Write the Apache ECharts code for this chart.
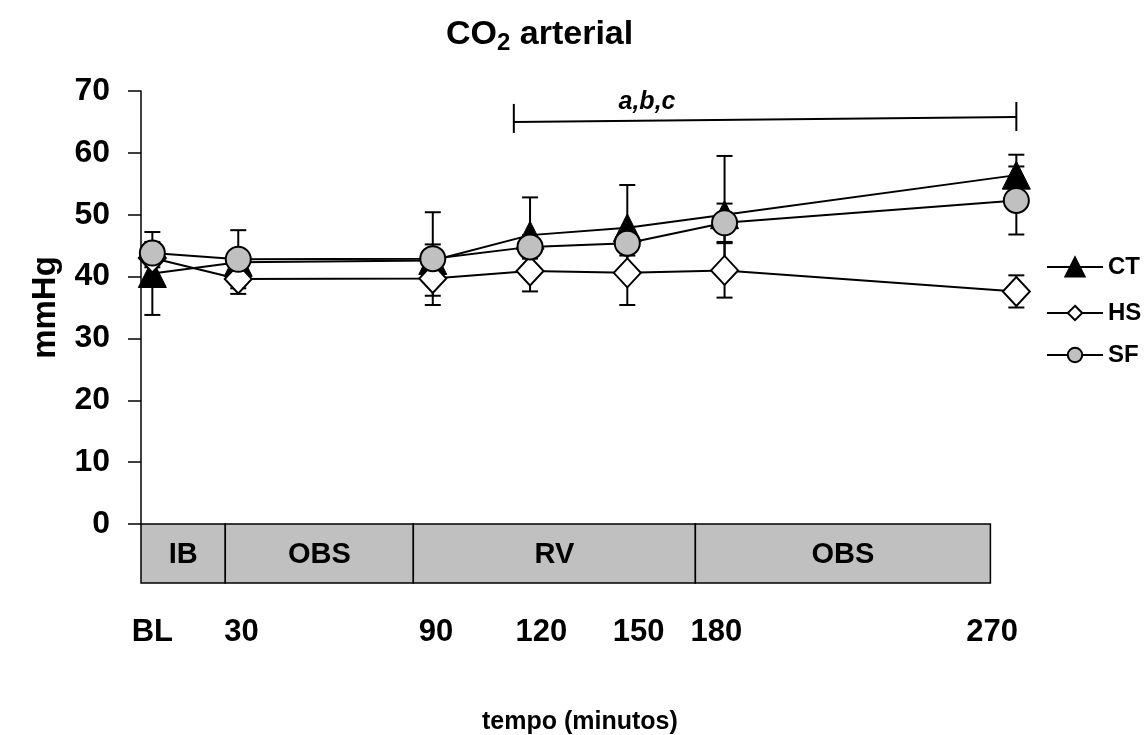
<!DOCTYPE html>
<html>
<head>
<meta charset="utf-8">
<script src="https://cdn.jsdelivr.net/npm/echarts@6/dist/echarts.min.js"></script>
<style>
  html, body { margin: 0; padding: 0; background: #ffffff; }
  #chart { width: 1144px; height: 735px; }
</style>
</head>
<body>
<div id="chart"></div>
<script>
// Sampling times (minutes) and their tick labels
const timeLabels = ['BL', '30', '90', '120', '150', '180', '270'];
const minutes = [3.5, 30, 90, 120, 150, 180, 270];

// Arterial CO2 (mmHg): mean and SD per group
const ctMean = [40.5, 42.3, 42.6, 46.7, 47.9, 50.0, 56.4];
const ctSd   = [6.7, 1.8, 2.6, 6.1, 6.9, 9.5, 3.3];
const hsMean = [43.0, 39.6, 39.7, 40.9, 40.6, 41.0, 37.6];
const hsSd   = [1.5, 2.4, 2.8, 3.3, 5.2, 4.4, 2.6];
const sfMean = [43.8, 42.8, 42.9, 44.8, 45.4, 48.7, 52.3];
const sfSd   = [1.8, 4.7, 7.5, 1.9, 2.0, 3.1, 5.5];

// Experimental phases (minutes)
const phaseNames = ['IB', 'OBS', 'RV', 'OBS'];
const phaseStart = [0, 26, 84, 171];
const phaseEnd   = [26, 84, 171, 262];

// Significance bracket: start/end time and level (mmHg)
const sigText = 'a,b,c';
const sigStart = [115, 65.0];
const sigEnd   = [270, 65.8];

// Y axis range
const yMin = 0, yMax = 70, yStep = 10;

// ---- layout ----
const FONT = '"Liberation Sans", Arial, Helvetica, sans-serif';
const xMax = 300;
const plotLeft = 141, plotTop = 91, plotWidth = 972.6, plotHeight = 433;
const barHeight = 59;
// where each time label sits along the axis (minutes)
const labelAnchor = [3.5, 31, 91, 123.5, 153.5, 177.5, 262.5];

const pts = (means) => minutes.map((m, i) => [m, means[i]]);
const errs = (means, sds) => minutes.map((m, i) => [m, means[i] - sds[i], means[i] + sds[i]]);

function errorBarRender(params, api) {
  const x = api.value(0);
  const lo = api.coord([x, api.value(1)]);
  const hi = api.coord([x, api.value(2)]);
  const half = 8;
  const style = { stroke: '#000', lineWidth: 2, fill: null };
  return {
    type: 'group',
    children: [
      { type: 'line', shape: { x1: lo[0], y1: lo[1], x2: hi[0], y2: hi[1] }, style },
      { type: 'line', shape: { x1: lo[0] - half, y1: lo[1], x2: lo[0] + half, y2: lo[1] }, style },
      { type: 'line', shape: { x1: hi[0] - half, y1: hi[1], x2: hi[0] + half, y2: hi[1] }, style }
    ]
  };
}

const lineBase = {
  type: 'line',
  xAxisIndex: 0,
  yAxisIndex: 0,
  lineStyle: { color: '#000', width: 2 },
  emphasis: { disabled: true },
  animation: false
};

const legendText = { fontFamily: FONT, fontWeight: 'bold', fontSize: 24, color: '#000', lineHeight: 18 };

const option = {
  backgroundColor: '#ffffff',
  animation: false,
  title: [
    {
      text: '{a|CO}{s|2}{a| arterial}',
      left: 441,
      top: 10,
      textStyle: {
        rich: {
          a: { fontFamily: FONT, fontWeight: 'bold', fontSize: 34, color: '#000', lineHeight: 40, verticalAlign: 'middle' },
          s: { fontFamily: FONT, fontWeight: 'bold', fontSize: 24, color: '#000', lineHeight: 18, verticalAlign: 'bottom' }
        }
      }
    },
    {
      text: 'tempo (minutos)',
      left: 477,
      top: 705,
      textStyle: { fontFamily: FONT, fontWeight: 'bold', fontSize: 25, color: '#000' }
    }
  ],
  legend: [
    {
      data: ['CT'], orient: 'vertical', left: 1046, top: 255, padding: 0,
      itemWidth: 56, itemHeight: 24, textStyle: legendText
    },
    {
      data: ['HS'], orient: 'vertical', left: 1046, top: 301, padding: 0,
      itemWidth: 56, itemHeight: 18, textStyle: legendText
    },
    {
      data: ['SF'], orient: 'vertical', left: 1046, top: 343, padding: 0,
      itemWidth: 56, itemHeight: 18, textStyle: legendText
    }
  ],
  grid: [
    { left: plotLeft, top: plotTop, width: plotWidth, height: plotHeight, containLabel: false },
    { left: plotLeft, top: plotTop + plotHeight, width: plotWidth, height: barHeight, containLabel: false }
  ],
  xAxis: [
    { gridIndex: 0, type: 'value', min: 0, max: xMax, show: false },
    {
      gridIndex: 1, type: 'value', min: 0, max: xMax,
      axisLine: { show: false }, axisTick: { show: false }, splitLine: { show: false },
      axisLabel: {
        customValues: labelAnchor,
        formatter: (v) => timeLabels[labelAnchor.indexOf(v)] || '',
        margin: 34,
        fontFamily: FONT, fontWeight: 'bold', fontSize: 31, color: '#000'
      }
    }
  ],
  yAxis: [
    {
      gridIndex: 0, type: 'value', min: yMin, max: yMax, interval: yStep,
      name: 'mmHg', nameLocation: 'middle', nameGap: 79, nameRotate: 90,
      nameTextStyle: { fontFamily: FONT, fontWeight: 'bold', fontSize: 33, color: '#000' },
      axisLine: { show: true, lineStyle: { color: '#000', width: 1.5 } },
      axisTick: { show: true, inside: false, length: 13, lineStyle: { color: '#000', width: 1.5 } },
      axisLabel: { margin: 31, fontFamily: FONT, fontWeight: 'bold', fontSize: 32, color: '#000' },
      splitLine: { show: false }
    },
    { gridIndex: 1, type: 'value', min: 0, max: 1, show: false }
  ],
  series: [
    // error bars (behind the markers)
    { type: 'custom', name: 'CT-sd', xAxisIndex: 0, yAxisIndex: 0, z: 1, silent: true,
      renderItem: errorBarRender, data: errs(ctMean, ctSd) },
    { type: 'custom', name: 'HS-sd', xAxisIndex: 0, yAxisIndex: 0, z: 1, silent: true,
      renderItem: errorBarRender, data: errs(hsMean, hsSd) },
    { type: 'custom', name: 'SF-sd', xAxisIndex: 0, yAxisIndex: 0, z: 1, silent: true,
      renderItem: errorBarRender, data: errs(sfMean, sfSd) },

    Object.assign({}, lineBase, {
      name: 'CT', z: 3, data: pts(ctMean),
      symbol: 'triangle', symbolSize: 28,
      itemStyle: { color: '#000', borderColor: '#000', borderWidth: 1 }
    }),
    Object.assign({}, lineBase, {
      name: 'HS', z: 4, data: pts(hsMean),
      symbol: 'diamond', symbolSize: [27, 29],
      itemStyle: { color: '#ffffff', borderColor: '#000', borderWidth: 2 }
    }),
    Object.assign({}, lineBase, {
      name: 'SF', z: 5, data: pts(sfMean),
      symbol: 'circle', symbolSize: 25,
      itemStyle: { color: '#c0c0c0', borderColor: '#000', borderWidth: 2 }
    }),

    // significance bracket
    {
      type: 'custom', name: 'sig', xAxisIndex: 0, yAxisIndex: 0, z: 6, silent: true,
      data: [[sigStart[0], sigStart[1], sigEnd[0], sigEnd[1]]],
      renderItem: function (params, api) {
        const p1 = api.coord([api.value(0), api.value(1)]);
        const p2 = api.coord([api.value(2), api.value(3)]);
        const style = { stroke: '#000', lineWidth: 2, fill: null };
        const tx = p1[0] + (p2[0] - p1[0]) * 0.265;
        return {
          type: 'group',
          children: [
            { type: 'line', shape: { x1: p1[0], y1: p1[1], x2: p2[0], y2: p2[1] }, style },
            { type: 'line', shape: { x1: p1[0], y1: p1[1] - 18, x2: p1[0], y2: p1[1] + 11 }, style },
            { type: 'line', shape: { x1: p2[0], y1: p2[1] - 15, x2: p2[0], y2: p2[1] + 14 }, style },
            { type: 'text', x: tx, y: p1[1] - 7,
              style: { text: sigText, fill: '#000', align: 'center', verticalAlign: 'bottom',
                font: 'italic bold 25px ' + FONT } }
          ]
        };
      }
    },

    // phase bar under the time axis
    {
      type: 'custom', name: 'phases', xAxisIndex: 1, yAxisIndex: 1, z: 2, silent: true,
      data: phaseNames.map((n, i) => [phaseStart[i], phaseEnd[i], n]),
      renderItem: function (params, api) {
        const a = api.coord([api.value(0), 1]);
        const b = api.coord([api.value(1), 0]);
        return {
          type: 'group',
          children: [
            { type: 'rect', shape: { x: a[0], y: a[1], width: b[0] - a[0], height: b[1] - a[1] },
              style: { fill: '#c0c0c0', stroke: '#000', lineWidth: 1.5 } },
            { type: 'text', x: (a[0] + b[0]) / 2, y: (a[1] + b[1]) / 2 + 1,
              style: { text: api.value(2), fill: '#000', align: 'center', verticalAlign: 'middle',
                font: 'bold 29px ' + FONT } }
          ]
        };
      }
    }
  ]
};

const chart = echarts.init(document.getElementById('chart'), null, { renderer: 'canvas' });
chart.setOption(option);
</script>
</body>
</html>
